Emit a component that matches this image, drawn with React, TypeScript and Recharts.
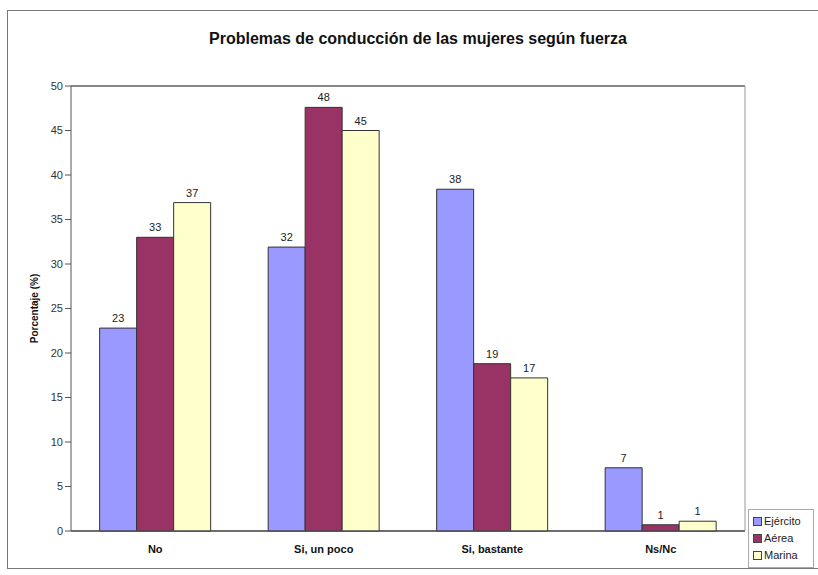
import { BarChart, Bar, XAxis, YAxis, CartesianGrid, LabelList } from "recharts";

const categories = ["No", "Si, un poco", "Si, bastante", "Ns/Nc"];
const ejercito = [22.8, 31.9, 38.4, 7.1];
const aerea = [33.0, 47.6, 18.8, 0.7];
const marina = [36.9, 45.0, 17.2, 1.1];
const yTicks = [0, 5, 10, 15, 20, 25, 30, 35, 40, 45, 50];

const series = [
  { key: "ejercito", name: "Ejército", color: "#9999ff" },
  { key: "aerea", name: "Aérea", color: "#993366" },
  { key: "marina", name: "Marina", color: "#ffffcc" },
];

const data = categories.map((c, i) => ({
  name: c,
  ejercito: ejercito[i],
  aerea: aerea[i],
  marina: marina[i],
}));

const font = "'Liberation Sans', Arial, sans-serif";

function LegendBox() {
  return (
    <div
      style={{
        position: "absolute",
        left: 748,
        top: 509,
        width: 66,
        boxSizing: "border-box",
        border: "1px solid #aaa",
        background: "#fff",
        padding: "3px 4px",
        fontSize: 11,
        color: "#222",
        lineHeight: "17px",
      }}
    >
      {series.map((s) => (
        <div key={s.key} style={{ display: "flex", alignItems: "center" }}>
          <span
            style={{
              display: "inline-block",
              width: 7,
              height: 7,
              background: s.color,
              border: "1px solid #444",
              marginRight: 2,
            }}
          />
          {s.name}
        </div>
      ))}
    </div>
  );
}

export default function App() {
  return (
    <div
      style={{
        position: "absolute",
        left: 0,
        top: 0,
        width: 818,
        height: 575,
        background: "#fff",
        fontFamily: font,
        overflow: "hidden",
      }}
    >
      <div
        style={{
          position: "absolute",
          left: 7,
          top: 10,
          width: 830,
          height: 559,
          border: "1px solid #777",
          boxSizing: "border-box",
        }}
      />
      <div
        style={{
          position: "absolute",
          left: 0,
          top: 30,
          width: 836,
          textAlign: "center",
          fontWeight: "bold",
          fontSize: 16,
          color: "#111",
        }}
      >
        Problemas de conducción de las mujeres según fuerza
      </div>
      <BarChart
        width={818}
        height={575}
        data={data}
        margin={{ top: 86, right: 0, bottom: 14, left: 0 }}
        barCategoryGap="17%"
        barGap={0}
      >
        <CartesianGrid vertical={false} stroke="#111" strokeWidth={1} />
        <XAxis
          dataKey="name"
          height={30}
          axisLine={{ stroke: "#555" }}
          tickLine={false}
          tick={{ fontSize: 11, fontWeight: "bold", fill: "#111" }}
          tickMargin={8}
        />
        <YAxis
          yAxisId="left"
          domain={[0, 50]}
          ticks={yTicks}
          width={71}
          axisLine={{ stroke: "#555" }}
          tickLine={{ stroke: "#555" }}
          tickSize={6}
          tick={{ fontSize: 11, fill: "#333" }}
          label={{
            value: "Porcentaje (%)",
            angle: -90,
            position: "insideLeft",
            offset: 34,
            style: { fontSize: 10, fontWeight: "bold", fill: "#111", textAnchor: "middle" },
          }}
        />
        <YAxis
          yAxisId="right"
          orientation="right"
          domain={[0, 50]}
          width={73}
          tick={false}
          tickLine={false}
          axisLine={{ stroke: "#999" }}
        />
        {series.map((s) => (
          <Bar
            key={s.key}
            yAxisId="left"
            dataKey={s.key}
            name={s.name}
            fill={s.color}
            stroke="#333"
            strokeWidth={1}
            isAnimationActive={false}
          >
            <LabelList
              dataKey={s.key}
              position="top"
              offset={6}
              fill="#222"
              stroke="none"
              fontSize={11}
              formatter={(v: number) => Math.round(v)}
            />
          </Bar>
        ))}
      </BarChart>
      <LegendBox />
    </div>
  );
}
